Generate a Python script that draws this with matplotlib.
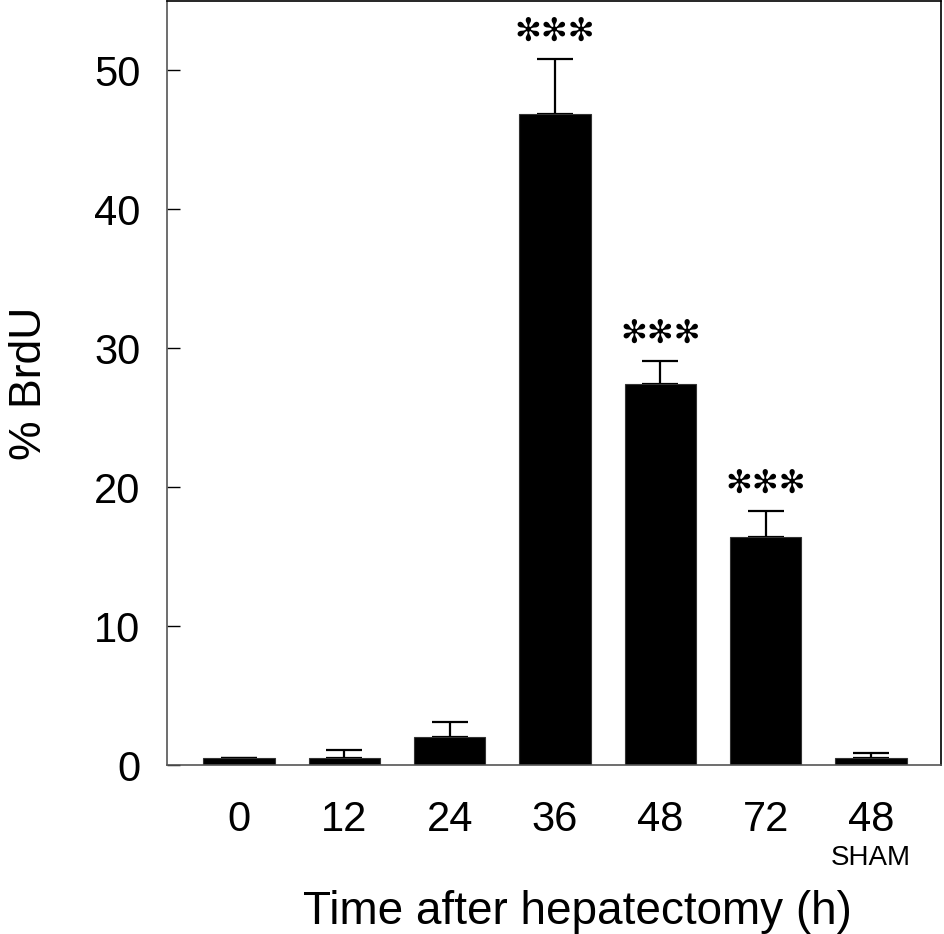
import matplotlib
matplotlib.use("Agg")
import matplotlib.pyplot as plt
import numpy as np

# data
times = ["0", "12", "24", "36", "48", "72", "48"]
brdu = [0.5, 0.5, 2.05, 46.9, 27.45, 16.4, 0.5]
err_up = [0.0, 0.6, 1.05, 3.9, 1.65, 1.9, 0.4]
stars = ["", "", "", "***", "***", "***", ""]

plt.rcParams['font.family'] = ['Liberation Sans', 'DejaVu Sans']

fig = plt.figure(figsize=(9.44, 9.34), dpi=100)
ax = fig.add_axes([0.1769, 0.1809, 0.8194, 0.8180])

x = np.arange(len(times))
ax.bar(x, brdu, width=0.68, color='black', edgecolor='#333333', linewidth=0.8, zorder=2)
ax.errorbar(x, brdu, yerr=[np.zeros(len(x)), err_up], fmt='none',
            ecolor='black', elinewidth=1.6, capsize=13, capthick=1.6, zorder=1)

for xi, yi, ei, s in zip(x, brdu, err_up, stars):
    if s:
        ax.annotate("\u273b" * len(s), (xi, yi + ei), xytext=(0, 8),
                    textcoords='offset points', ha='center', va='bottom',
                    fontsize=23, family='DejaVu Sans')

ax.set_xlim(-0.684, 6.66)
ax.set_ylim(0, 55)
ax.set_yticks([0, 10, 20, 30, 40, 50])
ax.set_xticks(x)
ax.set_xticklabels(times)
ax.tick_params(axis='y', direction='in', length=9, width=1, labelsize=30, pad=19)
ax.tick_params(axis='x', length=0, labelsize=30, pad=25)

ax.text(x[-1], -0.105, "SHAM", transform=ax.get_xaxis_transform(),
        ha='center', va='top', fontsize=20)

ax.set_ylabel("% BrdU", fontsize=32, labelpad=32)
ax.set_xlabel("Time after hepatectomy (h)", fontsize=33)
ax.xaxis.set_label_coords(0.531, -0.163)

for sp in ax.spines.values():
    sp.set_linewidth(1.2)
ax.spines['left'].set_color('#555555')
ax.spines['bottom'].set_color('#555555')

fig.savefig("out.png", dpi=100, facecolor='white')
